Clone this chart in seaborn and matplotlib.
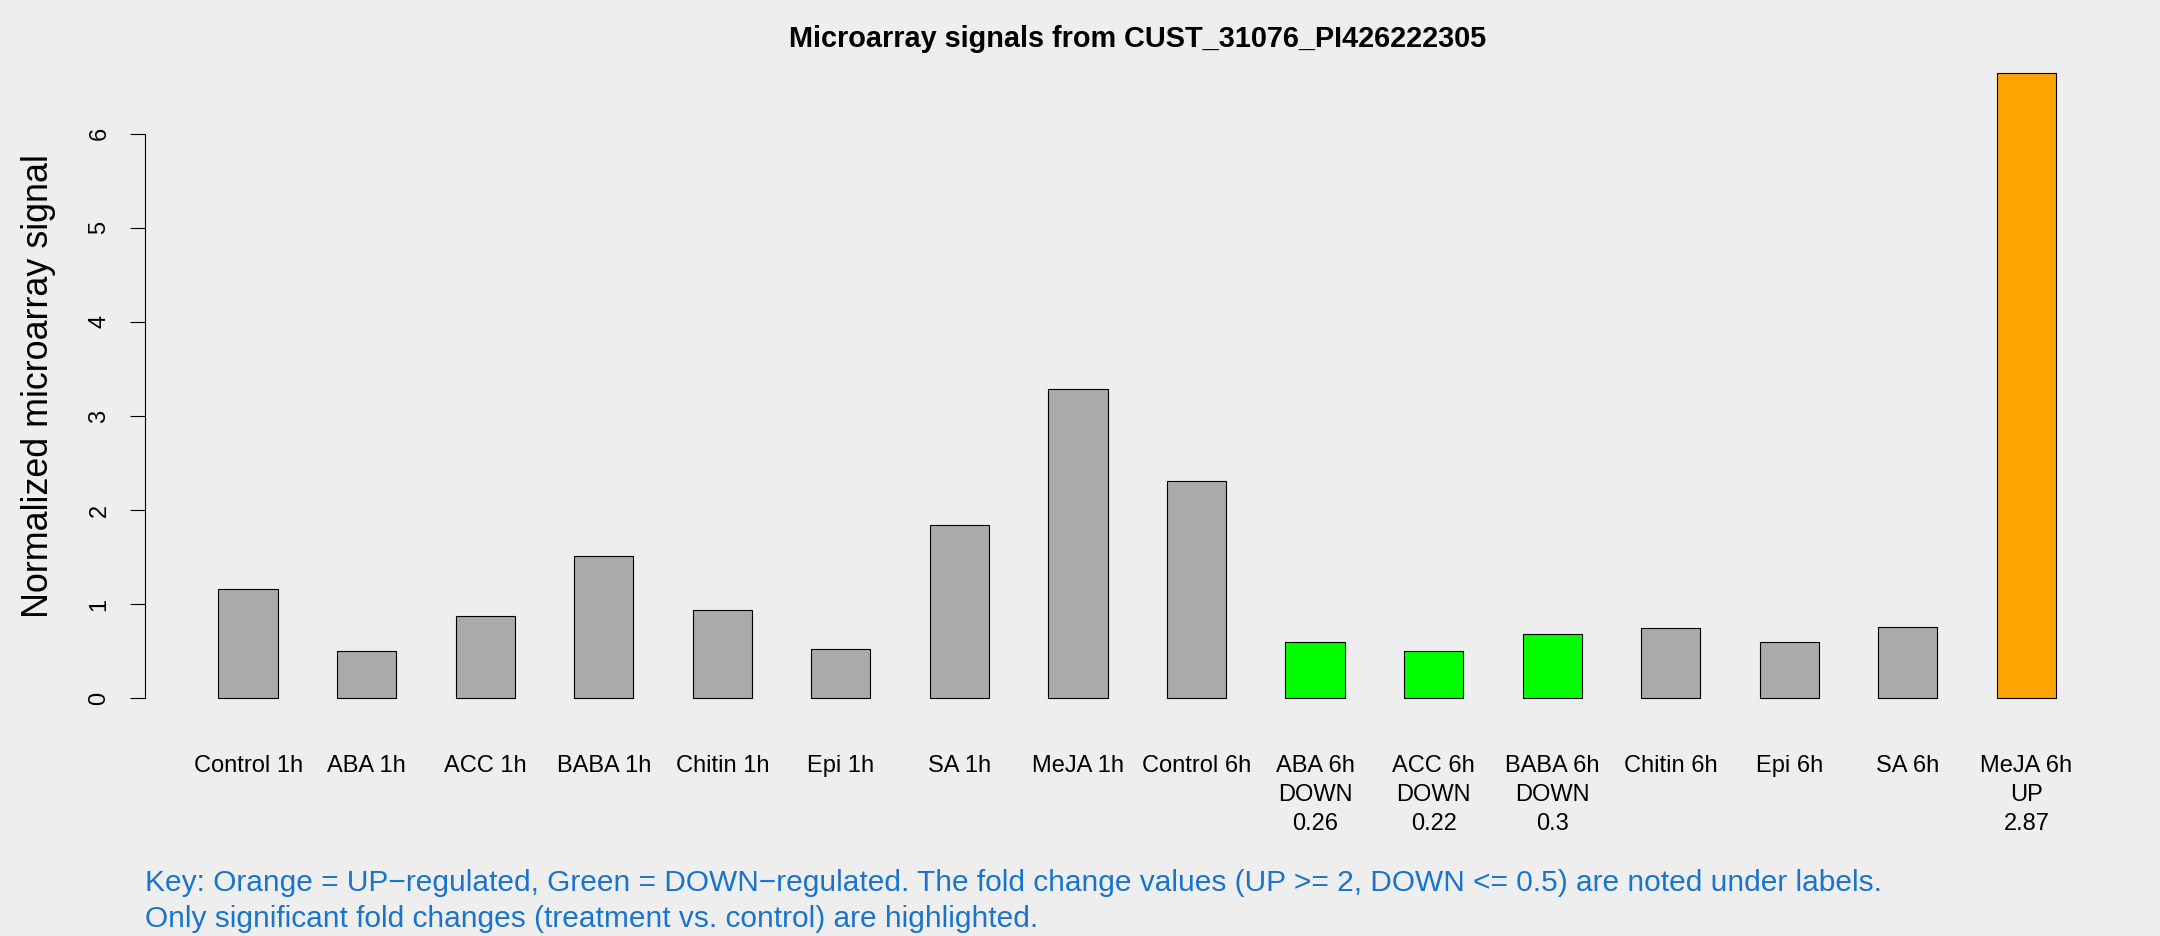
import matplotlib
matplotlib.use("Agg")
import matplotlib.pyplot as plt
import seaborn as sns
import pandas as pd

# ---- data ----
conditions = ["Control 1h", "ABA 1h", "ACC 1h", "BABA 1h", "Chitin 1h", "Epi 1h",
              "SA 1h", "MeJA 1h", "Control 6h", "ABA 6h", "ACC 6h", "BABA 6h",
              "Chitin 6h", "Epi 6h", "SA 6h", "MeJA 6h"]
signal = [1.16, 0.50, 0.88, 1.51, 0.94, 0.53, 1.84, 3.29, 2.31,
          0.60, 0.50, 0.69, 0.75, 0.60, 0.76, 6.64]
regulation = ["none", "none", "none", "none", "none", "none", "none", "none", "none",
              "DOWN", "DOWN", "DOWN", "none", "none", "none", "UP"]
fold_change = ["", "", "", "", "", "", "", "", "",
               "0.26", "0.22", "0.3", "", "", "", "2.87"]
yticks = [0, 1, 2, 3, 4, 5, 6]

title = "Microarray signals from CUST_31076_PI426222305"
ylabel = "Normalized microarray signal"
key_lines = ["Key: Orange = UP\u2212regulated, Green = DOWN\u2212regulated. The fold change values (UP >= 2, DOWN <= 0.5) are noted under labels.",
             "Only significant fold changes (treatment vs. control) are highlighted."]

tick_labels = [c if r == "none" else f"{c}\n{r}\n{f}"
               for c, r, f in zip(conditions, regulation, fold_change)]

# ---- style ----
sns.set_style("white")
plt.rcParams["font.family"] = ["Liberation Sans", "DejaVu Sans"]
plt.rcParams["text.color"] = "black"
plt.rcParams["xtick.color"] = "black"
plt.rcParams["ytick.color"] = "black"
bg = "#EEEEEE"

fig = plt.figure(figsize=(21.6, 9.36), dpi=100, facecolor=bg)
ax = fig.add_axes([0.0671, 0.227, 0.9188, 0.7239])
ax.set_facecolor(bg)

df = pd.DataFrame({"condition": conditions, "signal": signal, "status": regulation})
sns.barplot(data=df, x="condition", y="signal", hue="status",
            palette={"none": "#AAAAAA", "DOWN": "#00FF00", "UP": "#FFA500"},
            width=0.5, dodge=False, saturation=1, edgecolor="black",
            linewidth=0.8, legend=False, ax=ax)

ax.set_xlim(-0.87, 15.87)
ax.set_ylim(-0.266, 6.93)

for s in ["top", "right", "bottom"]:
    ax.spines[s].set_visible(False)
ax.spines["left"].set_bounds(0, 6)
ax.spines["left"].set_color("black")
ax.spines["left"].set_linewidth(0.8)

ax.set_yticks(yticks)
ax.set_yticklabels([str(v) for v in yticks])
ax.tick_params(axis="y", left=True, length=10.8, width=0.8, pad=14,
               labelsize=17, direction="out", colors="black")
for lbl in ax.get_yticklabels():
    lbl.set_rotation(90)
    lbl.set_va("center")

ax.set_xticks(range(len(conditions)))
ax.set_xticklabels(tick_labels, linespacing=1.41)
ax.tick_params(axis="x", length=0, pad=23, labelsize=17, colors="black")

ax.set_xlabel("")
ax.set_ylabel("")

fig.text(1138 / 2160, 1 - 38.6 / 936, title, ha="center", va="center",
         fontsize=20.8, fontweight="bold", color="black")
fig.text(38.6 / 2160, 1 - 386 / 936, ylabel, ha="center", va="center",
         rotation=90, fontsize=25.8, color="black")
fig.text(145 / 2160, 1 - 883 / 936, key_lines[0], ha="left", va="center",
         fontsize=21.5, color="#1874CD")
fig.text(145 / 2160, 1 - 919 / 936, key_lines[1], ha="left", va="center",
         fontsize=21.5, color="#1874CD")

fig.savefig("out.png", dpi=100, facecolor=bg)
